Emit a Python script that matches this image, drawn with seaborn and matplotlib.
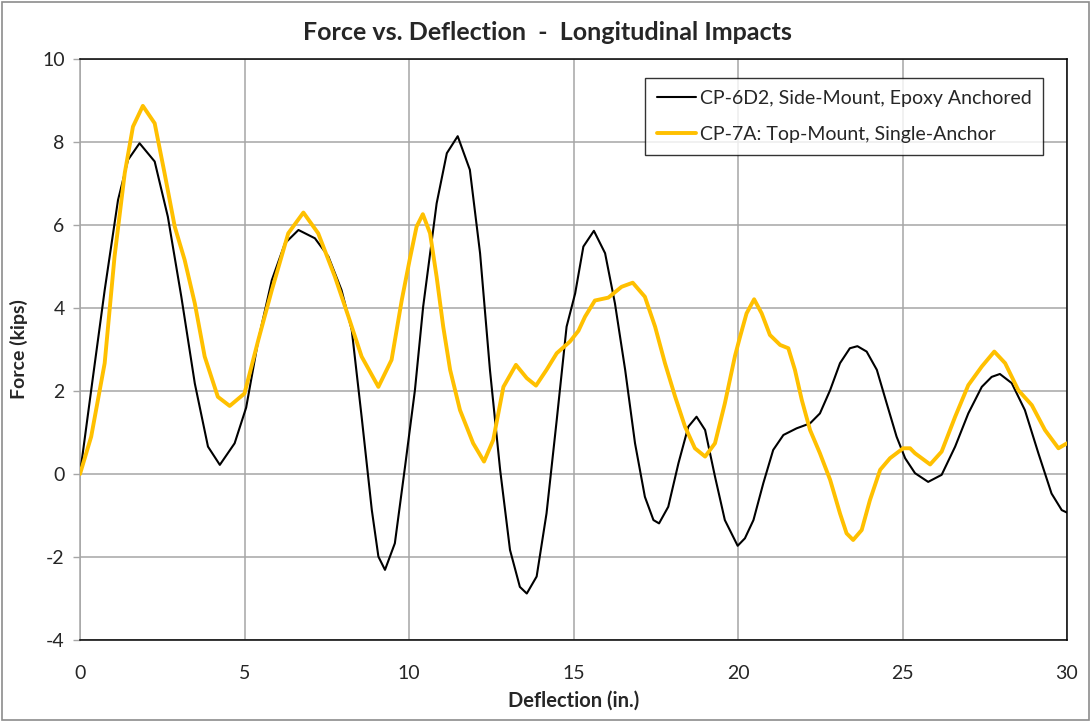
import matplotlib
matplotlib.use("Agg")
import matplotlib.pyplot as plt
import seaborn as sns
import pandas as pd
from matplotlib.patches import Rectangle

# CP-6D2, side-mount, epoxy anchored
cp6d2_defl = [0, 0.34, 0.75, 1.155, 1.46, 1.81, 2.27, 2.67, 3.08, 3.49, 3.89, 4.25,
              4.70, 5.05, 5.42, 5.83, 6.23, 6.64, 7.14, 7.55, 7.95, 8.26, 8.56, 8.87,
              9.07, 9.27, 9.57, 9.88, 10.18, 10.43, 10.84, 11.15, 11.48, 11.85, 12.16,
              12.46, 12.77, 13.07, 13.37, 13.58, 13.88, 14.18, 14.49, 14.79, 15.05,
              15.3, 15.62, 15.96, 16.26, 16.57, 16.87, 17.17, 17.43, 17.6, 17.88,
              18.19, 18.49, 18.74, 19.0, 19.3, 19.6, 19.99, 20.21, 20.47, 20.77,
              21.07, 21.38, 21.78, 22.19, 22.49, 22.8, 23.1, 23.4, 23.63, 23.91,
              24.22, 24.52, 24.82, 25.08, 25.38, 25.78, 26.19, 26.6, 27.0, 27.41,
              27.71, 27.96, 28.32, 28.72, 29.13, 29.53, 29.84, 30.0]
cp6d2_force = [0, 2.02, 4.43, 6.6, 7.57, 7.97, 7.53, 6.2, 4.27, 2.18, 0.66, 0.22,
               0.74, 1.6, 3.23, 4.67, 5.56, 5.88, 5.68, 5.24, 4.43, 3.47, 1.38, -0.87,
               -1.99, -2.31, -1.67, 0.18, 2.02, 4.03, 6.52, 7.73, 8.14, 7.33, 5.32,
               2.51, 0.1, -1.83, -2.72, -2.88, -2.47, -0.95, 1.3, 3.55, 4.35,
               5.48, 5.86, 5.32, 4.11, 2.51, 0.74, -0.55, -1.11, -1.19, -0.79,
               0.26, 1.14, 1.38, 1.06, -0.06, -1.11, -1.73, -1.55, -1.11, -0.22,
               0.58, 0.94, 1.1, 1.22, 1.46, 2.02, 2.67, 3.03, 3.08, 2.95,
               2.51, 1.7, 0.9, 0.38, 0.02, -0.19, -0.02, 0.66, 1.46, 2.1,
               2.34, 2.41, 2.19, 1.54, 0.5, -0.47, -0.87, -0.93]

# CP-7A, top-mount, single anchor
cp7a_defl = [0, 0.34, 0.75, 1.05, 1.36, 1.61, 1.91, 2.27, 2.57, 2.88, 3.18, 3.49,
             3.79, 4.19, 4.55, 5.0, 5.42, 5.83, 6.33, 6.79, 7.24, 7.75, 8.16, 8.56,
             9.07, 9.47, 9.78, 10.03, 10.23, 10.42, 10.64, 10.84, 11.04, 11.25,
             11.55, 11.95, 12.28, 12.56, 12.87, 13.25, 13.58, 13.86, 14.18, 14.49,
             14.89, 15.15, 15.35, 15.65, 16.06, 16.46, 16.8, 17.17, 17.48, 17.78,
             18.09, 18.39, 18.69, 19.0, 19.3, 19.6, 19.91, 20.06, 20.26, 20.49,
             20.72, 20.97, 21.28, 21.53, 21.73, 21.94, 22.19, 22.49, 22.8, 23.1,
             23.3, 23.5, 23.76, 24.01, 24.32, 24.62, 25.02, 25.23, 25.38, 25.84,
             26.19, 26.6, 27.0, 27.41, 27.79, 28.12, 28.52, 28.93, 29.33, 29.74, 30.0]
cp7a_force = [0, 0.9, 2.67, 5.24, 7.25, 8.37, 8.87, 8.45, 7.25, 5.96, 5.16, 4.11,
              2.83, 1.86, 1.64, 1.94, 3.23, 4.43, 5.8, 6.3, 5.8, 4.75, 3.79, 2.83,
              2.1, 2.75, 4.19, 5.2, 5.96, 6.26, 5.8, 4.75, 3.55, 2.51,
              1.54, 0.74, 0.3, 0.82, 2.1, 2.63, 2.31, 2.13, 2.51, 2.91,
              3.19, 3.45, 3.79, 4.18, 4.25, 4.51, 4.61, 4.27, 3.55, 2.67,
              1.86, 1.14, 0.62, 0.42, 0.74, 1.7, 2.85, 3.3, 3.87, 4.21,
              3.87, 3.35, 3.11, 3.03, 2.51, 1.78, 1.06, 0.5, -0.14, -0.95,
              -1.43, -1.59, -1.35, -0.63, 0.1, 0.38, 0.62, 0.62, 0.5, 0.23,
              0.54, 1.38, 2.14, 2.59, 2.95, 2.67, 2.02, 1.66, 1.06, 0.62, 0.74]

series_names = ["CP-6D2, Side-Mount, Epoxy Anchored", "CP-7A: Top-Mount, Single-Anchor"]
series_colors = ["#000000", "#FFC000"]
series_widths = [1.5, 2.8]

x_ticks = [0, 5, 10, 15, 20, 25, 30]
y_ticks = [-4, -2, 0, 2, 4, 6, 8, 10]

sns.set_theme(style="white")
plt.rcParams["font.family"] = ["Lato", "DejaVu Sans"]

fig = plt.figure(figsize=(10.91, 7.22), dpi=100)
ax = fig.add_axes([80 / 1091, 1 - 640 / 722, (1067 - 80) / 1091, (640 - 59) / 722])

frames = [
    pd.DataFrame({"Deflection": cp6d2_defl, "Force": cp6d2_force, "Series": series_names[0]}),
    pd.DataFrame({"Deflection": cp7a_defl, "Force": cp7a_force, "Series": series_names[1]}),
]
for df, color, lw in zip(frames, series_colors, series_widths):
    sns.lineplot(data=df, x="Deflection", y="Force", ax=ax, sort=False,
                 color=color, linewidth=lw, label=df["Series"].iloc[0],
                 solid_joinstyle="round", solid_capstyle="round", zorder=3)

ax.set_xlim(0, 30)
ax.set_ylim(-4, 10)
ax.set_xticks(x_ticks)
ax.set_yticks(y_ticks)
ax.set_xticklabels([str(v) for v in x_ticks], fontsize=14)
ax.set_yticklabels([str(v) for v in y_ticks], fontsize=14)
ax.grid(True, color="#A6A6A6", linewidth=1.1, zorder=0)
ax.set_axisbelow(True)
ax.tick_params(axis="y", which="major", direction="out", length=5, width=1,
               color="#A6A6A6", pad=6, left=True)
ax.tick_params(axis="x", which="major", length=0, pad=18)

for side in ["top", "bottom", "right"]:
    ax.spines[side].set_color("#000000")
    ax.spines[side].set_linewidth(1.1)
ax.spines["left"].set_color("#A6A6A6")
ax.spines["left"].set_linewidth(1.1)

ax.set_xlabel("Deflection (in.)", fontsize=14.5, fontweight="bold", labelpad=6)
ax.set_ylabel("Force (kips)", fontsize=14, fontweight="bold", labelpad=10)
# title is centred on the whole chart area rather than on the plot area
fig.text(0.502, 1 - 32 / 722, "Force vs. Deflection  -  Longitudinal Impacts",
         fontsize=18, fontweight="bold", ha="center", va="center")

leg = ax.legend(loc="upper right", bbox_to_anchor=(0.976, 0.967), fontsize=14,
                frameon=True, fancybox=False, handlelength=2.0, handletextpad=0.2,
                borderpad=0.6, labelspacing=1.0, borderaxespad=0)
leg.get_frame().set_edgecolor("#000000")
leg.get_frame().set_linewidth(1.0)

# chart-area border
fig.patches.append(Rectangle((2 / 1091, 2 / 722), 1087 / 1091, 718 / 722,
                             transform=fig.transFigure, fill=False,
                             edgecolor="#8C8C8C", linewidth=1.2))

fig.savefig("out.png", dpi=100, facecolor="white")
